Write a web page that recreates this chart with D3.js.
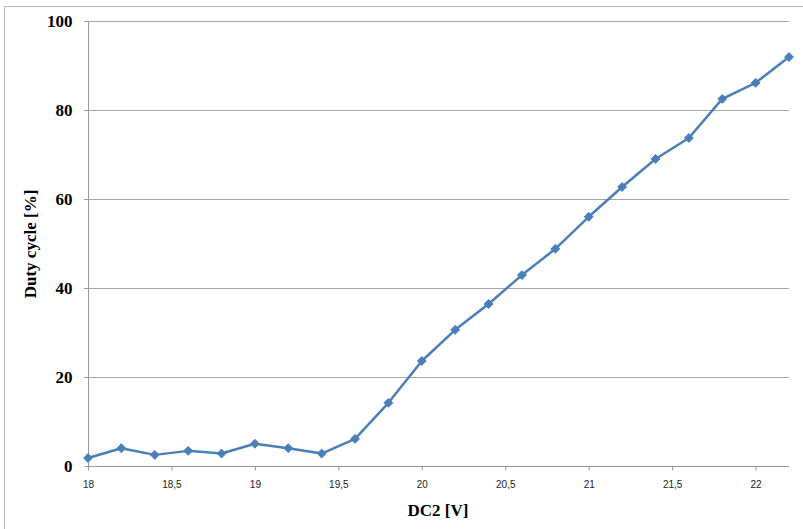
<!DOCTYPE html>
<html><head><meta charset="utf-8">
<script src="https://cdn.jsdelivr.net/npm/d3@7"></script>
<style>body{margin:0;background:#fff}svg{display:block}</style>
</head><body>
<svg id="c" width="803" height="529"></svg>
<script>
const voltages = [18,18.2,18.4,18.6,18.8,19,19.2,19.4,19.6,19.8,20,20.2,20.4,20.6,20.8,21,21.2,21.4,21.6,21.8,22,22.2];
const duty = [1.8,4.0,2.5,3.4,2.8,5.0,4.0,2.8,6.1,14.2,23.6,30.6,36.4,42.9,48.8,56.0,62.7,69.0,73.7,82.5,86.1,91.9];
const xTicks = [18,18.5,19,19.5,20,20.5,21,21.5,22];
const yTicks = [0,20,40,60,80,100];
const xTitle = "DC2 [V]";
const yTitle = "Duty cycle [%]";

const svg = d3.select("#c");
const L=88, R=789, T=21, B=466;
const x = d3.scaleLinear().domain([18,22.2]).range([L,R]);
const y = d3.scaleLinear().domain([0,100]).range([B,T]);

svg.append("rect").attr("x",4.5).attr("y",6.5).attr("width",900).attr("height",700)
  .attr("fill","none").attr("stroke","#b8b8b8");

// gridlines
svg.append("g").selectAll("line").data(yTicks.filter(d=>d>0)).join("line")
  .attr("x1",L-4).attr("x2",R).attr("y1",d=>Math.round(y(d))+0.5).attr("y2",d=>Math.round(y(d))+0.5)
  .attr("stroke","#a6a6a6").attr("stroke-width",1);

// y axis
const yAx = svg.append("g").attr("transform",`translate(${L+0.5},0)`)
  .call(d3.axisLeft(y).tickValues(yTicks).tickSize(4).tickPadding(12).tickFormat(d3.format("d")));
yAx.select(".domain").attr("stroke","#9a9a9a").attr("d",`M0,${T}V${B+4}`);
yAx.selectAll(".tick line").attr("stroke","#9a9a9a");
yAx.selectAll("text").attr("font-family","'Liberation Serif',serif").attr("font-weight","bold")
  .attr("font-size","17px").attr("fill","#000");

// x axis
const xAx = svg.append("g").attr("transform",`translate(0,${B+0.5})`)
  .call(d3.axisBottom(x).tickValues(xTicks).tickSize(4).tickPadding(10)
    .tickFormat(d=>String(d).replace(".",",")));
xAx.select(".domain").attr("stroke","#9a9a9a").attr("d",`M${L},0H${R}`);
xAx.selectAll(".tick line").attr("stroke","#9a9a9a");
xAx.selectAll("text").attr("font-family","'Liberation Sans',sans-serif")
  .attr("font-size","10px").attr("fill","#222");

// titles
svg.append("text").attr("x",438).attr("y",516).attr("text-anchor","middle")
  .attr("font-family","'Liberation Serif',serif").attr("font-weight","bold").attr("font-size","17px")
  .text(xTitle);
svg.append("text").attr("transform","translate(36,244) rotate(-90)").attr("text-anchor","middle")
  .attr("font-family","'Liberation Serif',serif").attr("font-weight","bold").attr("font-size","17px")
  .text(yTitle);

// line
const pts = voltages.map((v,i)=>[v,duty[i]]);
svg.append("path").datum(pts)
  .attr("d",d3.line().x(d=>x(d[0])).y(d=>y(d[1])))
  .attr("fill","none").attr("stroke","#4a7ebb").attr("stroke-width",2.5).attr("stroke-linejoin","round");
svg.append("g").selectAll("path").data(pts).join("path")
  .attr("d",d3.symbol(d3.symbolDiamond2,50))
  .attr("transform",d=>`translate(${x(d[0])},${y(d[1])})`)
  .attr("fill","#4a7ebb").attr("stroke","#4a7ebb").attr("stroke-width",1);
</script>
</body></html>
